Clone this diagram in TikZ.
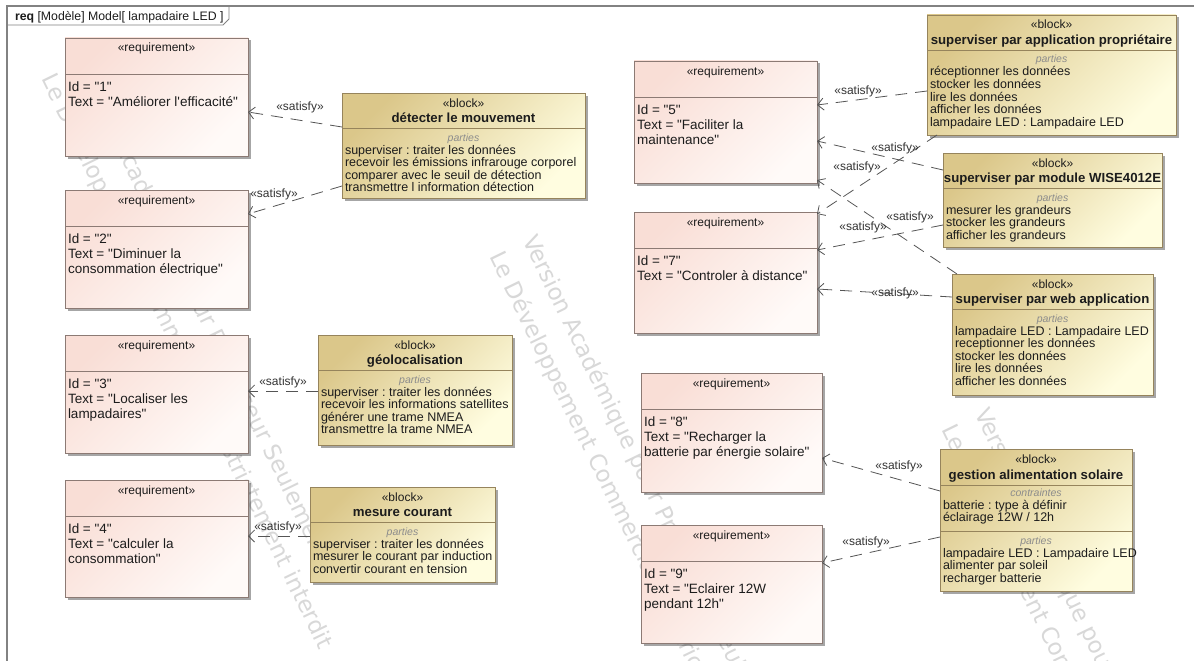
\documentclass[tikz,border=0pt]{standalone}
\usepackage{fontspec}
\setmainfont{Liberation Sans}[Ligatures=TeXOff]
\newfontfamily\wmfont{DejaVu Sans}
\usetikzlibrary{calc,arrows.meta,shadows}
\definecolor{reqA}{RGB}{249,222,214}
\definecolor{reqB}{RGB}{255,250,248}
\definecolor{reqD}{RGB}{140,122,116}
\definecolor{blkA}{RGB}{219,199,138}
\definecolor{blkB}{RGB}{255,253,224}
\definecolor{blkD}{RGB}{150,132,92}
\definecolor{txt}{RGB}{28,28,28}
\definecolor{lnk}{RGB}{85,85,85}
\definecolor{frm}{RGB}{130,130,130}
\definecolor{wmc}{RGB}{216,216,216}

\newcommand{\reqbox}[7]{%
  \node[req, anchor=north west, minimum width=#4pt, minimum height=#5pt] (#1) at (#2,#3) {};
  \draw[rsep] ($(#1.north west)+(0,36)$) -- ($(#1.north east)+(0,36)$);
  \node[stereo, anchor=base] (#1-st) at ($(#1.north)+(0,14)$) {«requirement»};
  \foreach \ln [count=\i] in {#6} \node[reqtxt, anchor=base west] (#1-t\i) at ($(#1.north west)+(3,38.5+15*\i)$) {\ln};
}
\newcommand{\blkbox}[7]{%
  \node[blk, anchor=north west, minimum width=#4pt, minimum height=#5pt] (#1) at (#2,#3) {};
  \node[stereo, anchor=base] (#1-st) at ($(#1.north)+(0,14)$) {«block»};
  \node[btitle, anchor=base] (#1-ti) at ($(#1.north)+(0,29.5)$) {#6};
  \draw[bsep] ($(#1.north west)+(0,35)$) -- ($(#1.north east)+(0,35)$);
  \node[comp, anchor=base] (#1-co) at ($(#1.north)+(0,48)$) {parties};
  \foreach \ln [count=\i] in {#7} \node[btxt, anchor=base west] (#1-t\i) at ($(#1.north west)+(3,48.4+12.6*\i)$) {\ln};
}

\begin{document}
\frenchspacing
\begin{tikzpicture}[x=1pt,y=-1pt,
  every node/.style={inner sep=0pt, outer sep=0pt, text=txt},
  req/.style={draw=reqD, line width=0.8pt, top color=reqA, bottom color=reqB, shading angle=45,
    drop shadow={shadow xshift=2.5pt, shadow yshift=-2.5pt, fill=black, opacity=0.35}},
  blk/.style={draw=blkD, line width=0.8pt, top color=blkA, bottom color=blkB, shading angle=45,
    drop shadow={shadow xshift=2.5pt, shadow yshift=-2.5pt, fill=black, opacity=0.35}},
  rsep/.style={draw=reqD, line width=0.8pt},
  bsep/.style={draw=blkD, line width=0.8pt},
  stereo/.style={font=\fontsize{12}{13}\selectfont},
  reqtxt/.style={font=\fontsize{13.5}{15}\selectfont},
  btitle/.style={font=\bfseries\fontsize{13.2}{15}\selectfont},
  btxt/.style={font=\fontsize{12.5}{13}\selectfont},
  comp/.style={font=\itshape\fontsize{10.5}{12}\selectfont, text=black!45},
  satlbl/.style={font=\fontsize{12}{13}\selectfont, text=black!80},
  sat/.style={draw=lnk, line width=0.8pt, dash pattern=on 12pt off 8pt,
    -{Straight Barb[length=6pt,width=12pt]}},
  wm/.style={font=\wmfont\fontsize{23}{28}\selectfont, text=wmc, rotate=-64, anchor=base west},
  frame/.style={draw=frm, line width=1.4pt}
]
\useasboundingbox (0,0) rectangle (1194,661);
\clip (0,0) rectangle (1194,661);
\fill[white] (0,0) rectangle (1194,661);

% watermark
\node[wm] (wB1) at (74,63) {Version Académique pour Professeur Seulement};
\node[wm] (wB2) at (41,79) {Le Développement Commercial est strictement interdit};
\node[wm] (wA1) at (522,240) {Version Académique pour Professeur Seulement};
\node[wm] (wA2) at (489,256) {Le Développement Commercial est strictement interdit};
\node[wm] (wC1) at (974,413) {Version Académique pour Professeur Seulement};
\node[wm] (wC2) at (941,429) {Le Développement Commercial est strictement interdit};

% frame
\draw[frame] (7,700) -- (7,6) -- (1300,6);
\draw[draw=frm, line width=0.8pt] (7,25) -- (223,25) -- (229,19) -- (229,6);
\node[anchor=base west, font=\fontsize{12.3}{14}\selectfont] (ttl) at (15,21) {\textbf{req} [Modèle] Model[ lampadaire LED ]};

% requirements
\reqbox{r1}{65}{38}{183}{118}{Id = "1",Text = "Améliorer l'efficacité"}{}
\reqbox{r2}{65}{190}{183}{118}{Id = "2",Text = "Diminuer la,consommation électrique"}{}
\reqbox{r3}{65}{335}{183}{118}{Id = "3",Text = "Localiser les,lampadaires"}{}
\reqbox{r4}{65}{480}{183}{117}{Id = "4",Text = "calculer la,consommation"}{}
\reqbox{r5}{634}{61}{183}{122}{Id = "5",Text = "Faciliter la,maintenance"}{}
\reqbox{r7}{634}{212}{183}{121}{Id = "7",Text = "Controler à distance"}{}
\reqbox{r8}{641}{373}{181}{119}{Id = "8",Text = "Recharger la,batterie par énergie solaire"}{}
\reqbox{r9}{641}{525}{181}{118}{Id = "9",Text = "Eclairer 12W,pendant 12h"}{}

% blocks
\blkbox{det}{342}{93}{243}{105}{détecter le mouvement}{superviser : traiter les données,recevoir les émissions infrarouge corporel,comparer avec le seuil de détection,transmettre l information détection}
\blkbox{geo}{318}{335}{194}{110}{géolocalisation}{superviser : traiter les données,recevoir les informations satellites,générer une trame NMEA,transmettre la trame NMEA}
\blkbox{mes}{310}{487}{185}{95}{mesure courant}{superviser : traiter les données,mesurer le courant par induction,convertir courant en tension}
\blkbox{app}{927}{15}{249}{120}{superviser par application propriétaire}{réceptionner les données,stocker les données,lire les données,afficher les données,lampadaire LED : Lampadaire LED}
\blkbox{wise}{943}{153}{219}{94}{superviser par module WISE4012E}{mesurer les grandeurs,stocker les grandeurs,afficher les grandeurs}
\blkbox{web}{952}{274}{201}{121}{superviser par web application}{lampadaire LED : Lampadaire LED,receptionner les données,stocker les données,lire les données,afficher les données}

% gestion alimentation solaire
\node[blk, anchor=north west, minimum width=192pt, minimum height=142pt] (gest) at (940,449) {};
\node[stereo, anchor=base] (gest-st) at ($(gest.north)+(0,14)$) {«block»};
\node[btitle, anchor=base] (gest-ti) at ($(gest.north)+(0,30)$) {gestion alimentation solaire};
\draw[bsep] ($(gest.north west)+(0,36)$) -- ($(gest.north east)+(0,36)$);
\node[comp, anchor=base] (gest-c1) at ($(gest.north)+(0,47.5)$) {contraintes};
\node[btxt, anchor=base west] (gest-a1) at ($(gest.north west)+(3,60)$) {batterie : type à définir};
\node[btxt, anchor=base west] (gest-a2) at ($(gest.north west)+(3,72.6)$) {éclairage 12W / 12h};
\draw[bsep] ($(gest.north west)+(0,82)$) -- ($(gest.north east)+(0,82)$);
\node[comp, anchor=base] (gest-c2) at ($(gest.north)+(0,95)$) {parties};
\node[btxt, anchor=base west] (gest-b1) at ($(gest.north west)+(3,108)$) {lampadaire LED : Lampadaire LED};
\node[btxt, anchor=base west] (gest-b2) at ($(gest.north west)+(3,120.6)$) {alimenter par soleil};
\node[btxt, anchor=base west] (gest-b3) at ($(gest.north west)+(3,133.2)$) {recharger batterie};

% satisfy connectors
\draw[sat] ($(det.north west)+(0,34)$) -- ($(r1.north east)+(0,74)$);
\draw[sat] ($(det.north west)+(0,93)$) -- ($(r2.north east)+(0,24)$);
\draw[sat] ($(geo.north west)+(0,56)$) -- ($(r3.north east)+(0,56)$);
\draw[sat] ($(mes.north west)+(0,49)$) -- ($(r4.north east)+(0,56)$);
\draw[sat] ($(app.north west)+(0,76)$) -- ($(r5.north east)+(0,44)$);
\draw[sat] ($(app.south west)+(10,0)$) -- ($(r7.north east)+(0,2)$);
\draw[sat] ($(wise.north west)+(0,17)$) -- ($(r5.north east)+(0,80)$);
\draw[sat] ($(wise.north west)+(0,72)$) -- ($(r7.north east)+(0,38)$);
\draw[sat] ($(web.north west)+(5,0)$) -- ($(r5.south east)+(0,-3)$);
\draw[sat] ($(web.north west)+(0,23)$) -- ($(r7.north east)+(0,77)$);
\draw[sat] ($(gest.north west)+(0,42)$) -- ($(r8.north east)+(0,85)$);
\draw[sat] ($(gest.north west)+(0,88)$) -- ($(r9.north east)+(0,38)$);

\node[satlbl] (l1) at (300,107) {«satisfy»};
\node[satlbl] (l2) at (274,194) {«satisfy»};
\node[satlbl] (l3) at (283,382) {«satisfy»};
\node[satlbl] (l4) at (278,527) {«satisfy»};
\node[satlbl] (l5) at (858,91) {«satisfy»};
\node[satlbl] (l6) at (895,148) {«satisfy»};
\node[satlbl] (l7) at (857,167) {«satisfy»};
\node[satlbl] (l8) at (910,217) {«satisfy»};
\node[satlbl] (l9) at (863,227) {«satisfy»};
\node[satlbl] (l10) at (895,293) {«satisfy»};
\node[satlbl] (l11) at (899,466) {«satisfy»};
\node[satlbl] (l12) at (866,542) {«satisfy»};
\end{tikzpicture}
\end{document}
